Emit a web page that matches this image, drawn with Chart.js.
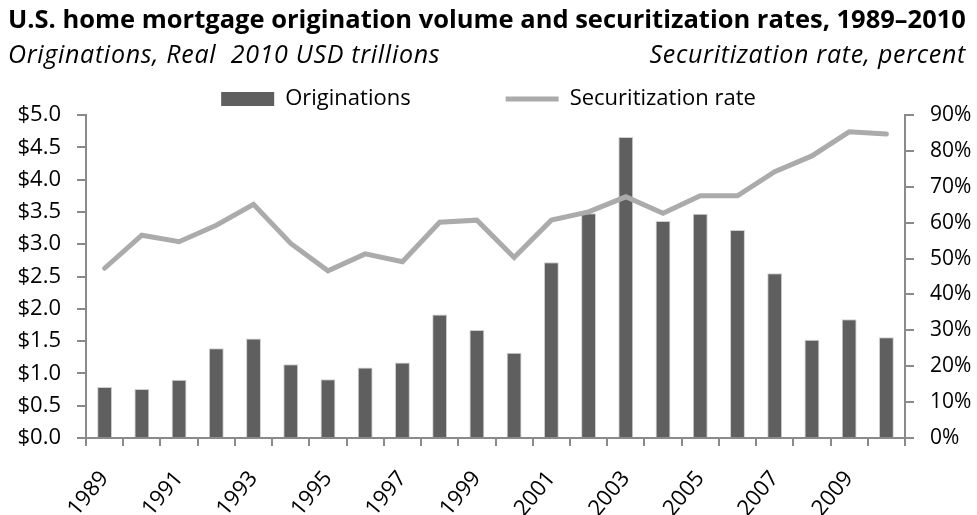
<!DOCTYPE html>
<html>
<head>
<meta charset="utf-8">
<script src="https://cdn.jsdelivr.net/npm/chart.js@4/dist/chart.umd.min.js"></script>
<style>
    html, body { margin: 0; padding: 0; background: #fff; }
    #wrap { position: relative; width: 977px; height: 515px; font-family: 'Open Sans', sans-serif; color: #000; }
    #title { position: absolute; left: 8px; top: 1px; font-size: 25.5px; font-weight: bold; white-space: nowrap; }
    .sub { position: absolute; top: 36px; font-size: 25px; font-style: italic; letter-spacing: 0.7px; white-space: nowrap; }
    #sub-left { left: 8px; }
    #sub-right { right: 11px; }
    canvas { position: absolute; left: 0; top: 0; }
</style>
</head>
<body>
<div id="wrap">
    <canvas id="chart" width="977" height="515"></canvas>
    <div id="title">U.S. home mortgage origination volume and securitization rates, 1989–2010</div>
    <div class="sub" id="sub-left">Originations, Real&nbsp; 2010 USD trillions</div>
    <div class="sub" id="sub-right">Securitization rate, percent</div>
</div>
<script>
// Data
const years = ['1989', '1990', '1991', '1992', '1993', '1994', '1995', '1996', '1997', '1998', '1999',
    '2000', '2001', '2002', '2003', '2004', '2005', '2006', '2007', '2008', '2009', '2010'];
// Real 2010 USD trillions
const originations = [0.79, 0.76, 0.90, 1.39, 1.54, 1.14, 0.91, 1.09, 1.17, 1.91, 1.67,
    1.32, 2.72, 3.48, 4.66, 3.36, 3.47, 3.22, 2.55, 1.52, 1.84, 1.56];
// percent
const securitization = [47.3, 56.5, 54.7, 59.3, 65.1, 54.2, 46.6, 51.3, 49.1, 60.1, 60.7,
    50.3, 60.7, 63.0, 67.2, 62.6, 67.5, 67.5, 74.2, 78.6, 85.3, 84.7];

const BAR_COLOR = '#5f5f5f';
const LINE_COLOR = '#ababab';
const AXIS_COLOR = '#8a8a8a';

Chart.defaults.font.family = "'Open Sans', sans-serif";
Chart.defaults.color = '#000';

// legend items need a wide gap between them, so the legend box is
// pulled up and its height is set so the plot starts right under it
const legendFit = {
    id: 'legendFit',
    beforeInit(chart) {
        const origFit = chart.legend.fit;
        chart.legend.fit = function () {
            origFit.call(this);
            this.height = 122;
        };
    }
};

new Chart(document.getElementById('chart'), {
    type: 'bar',
    data: {
        labels: years,
        datasets: [{
            label: 'Originations',
            data: originations,
            backgroundColor: BAR_COLOR,
            borderColor: '#d0d0d0',
            borderWidth: 1,
            categoryPercentage: 1,
            barPercentage: 0.4,
            yAxisID: 'y',
            order: 1
        }, {
            type: 'line',
            label: 'Securitization rate',
            data: securitization,
            borderColor: LINE_COLOR,
            backgroundColor: LINE_COLOR,
            borderWidth: 5,
            tension: 0,
            pointRadius: 0,
            borderCapStyle: 'round',
            yAxisID: 'y1',
            order: 0
        }]
    },
    options: {
        responsive: false,
        animation: false,
        layout: { padding: { top: -7, left: 0, right: 0, bottom: 0 } },
        plugins: {
            tooltip: { enabled: false },
            legend: {
                labels: {
                    font: { size: 22 },
                    usePointStyle: true,
                    pointStyleWidth: 53,
                    boxHeight: 14,
                    padding: 95,
                    generateLabels(chart) {
                        return chart.data.datasets.map((ds, i) => ({
                            text: ds.label,
                            datasetIndex: i,
                            fillStyle: ds.type === 'line' ? LINE_COLOR : BAR_COLOR,
                            strokeStyle: ds.type === 'line' ? LINE_COLOR : BAR_COLOR,
                            lineWidth: ds.type === 'line' ? 5 : 0,
                            pointStyle: ds.type === 'line' ? 'line' : 'rect',
                            fontColor: '#000'
                        }));
                    }
                }
            }
        },
        scales: {
            x: {
                afterFit(scale) { scale.height = 77; },
                grid: { offset: true, drawOnChartArea: false, tickLength: 8, color: AXIS_COLOR, lineWidth: 2 },
                border: { color: AXIS_COLOR, width: 2 },
                ticks: {
                    autoSkip: false,
                    minRotation: 50,
                    maxRotation: 50,
                    padding: 20,
                    font: { size: 22 },
                    callback: (val, i) => (i % 2 === 0 ? years[i] : '')
                }
            },
            y: {
                position: 'left',
                min: 0,
                max: 5,
                afterFit(scale) { scale.width = 86; },
                grid: { drawOnChartArea: false, tickLength: 9, color: AXIS_COLOR, lineWidth: 2 },
                border: { color: AXIS_COLOR, width: 2 },
                ticks: {
                    stepSize: 0.5,
                    padding: 16,
                    font: { size: 22 },
                    callback: v => '$' + v.toFixed(1)
                }
            },
            y1: {
                position: 'right',
                min: 0,
                max: 90,
                afterFit(scale) { scale.width = 72; },
                grid: { drawOnChartArea: false, tickLength: 9, color: AXIS_COLOR, lineWidth: 2 },
                border: { color: AXIS_COLOR, width: 2 },
                ticks: {
                    stepSize: 10,
                    padding: 16,
                    font: { size: 21 },
                    callback: v => v + '%'
                }
            }
        }
    },
    plugins: [legendFit]
});
</script>
</body>
</html>
